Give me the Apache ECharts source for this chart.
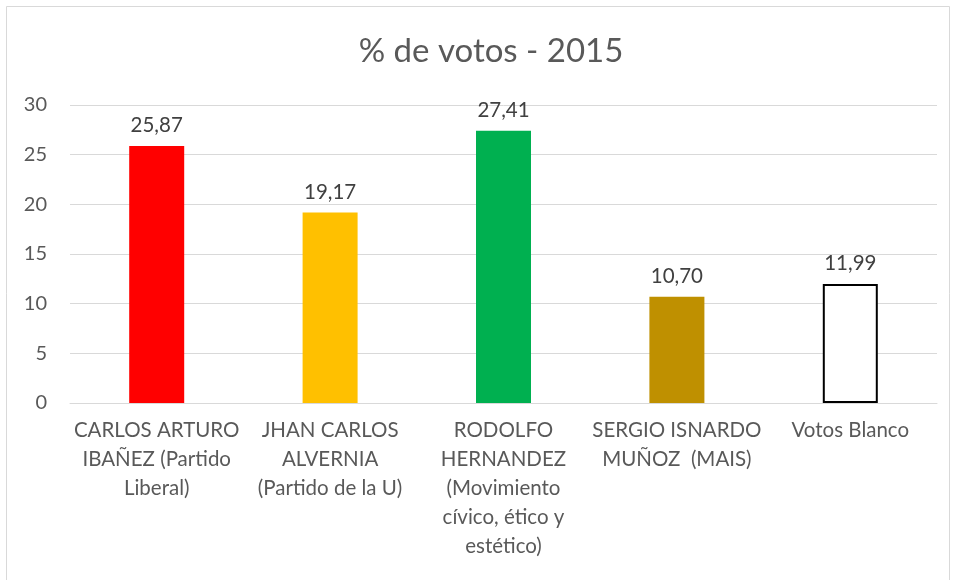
<!DOCTYPE html>
<html>
<head>
<meta charset="utf-8">
<script src="https://cdn.jsdelivr.net/npm/echarts@6/dist/echarts.min.js"></script>
<style>
  html, body { margin: 0; padding: 0; background: #fff; }
  #chart { width: 956px; height: 580px; }
</style>
</head>
<body>
<div id="chart"></div>
<script>
// Candidates and their share of the vote
const categories = [
  'CARLOS ARTURO\nIBAÑEZ (Partido\nLiberal)',
  'JHAN CARLOS\nALVERNIA\n(Partido de la U)',
  'RODOLFO\nHERNANDEZ\n(Movimiento\ncívico, ético y\nestético)',
  'SERGIO ISNARDO\nMUÑOZ  (MAIS)',
  'Votos Blanco'
];
const votes = [25.87, 19.17, 27.41, 10.70, 11.99];
const barColors = ['#FF0000', '#FFC000', '#00B050', '#BF9000', '#FFFFFF'];
const yTicks = { min: 0, max: 30, interval: 5 };

const FONT = 'Lato, "Open Sans", sans-serif';

const chart = echarts.init(document.getElementById('chart'), null, { renderer: 'canvas' });

chart.setOption({
  backgroundColor: '#fff',
  animation: false,
  graphic: [{
    type: 'rect',
    shape: { x: 6.5, y: 6.5, width: 943, height: 600 },
    style: { fill: 'none', stroke: '#D9D9D9', lineWidth: 1 },
    silent: true
  }],
  title: {
    text: '% de votos - 2015',
    left: 486,
    textAlign: 'center',
    top: 30,
    textStyle: { fontFamily: FONT, fontSize: 33, fontWeight: 'normal', color: '#595959' }
  },
  grid: { left: 70, right: 19, top: 105, bottom: 177, containLabel: false },
  xAxis: {
    type: 'category',
    data: categories,
    axisTick: { show: false },
    axisLine: { show: true, lineStyle: { color: '#D9D9D9', width: 1 } },
    axisLabel: {
      interval: 0,
      margin: 13,
      fontFamily: FONT,
      fontSize: 20.5,
      lineHeight: 29,
      color: '#595959',
      align: 'center'
    }
  },
  yAxis: {
    type: 'value',
    min: yTicks.min,
    max: yTicks.max,
    interval: yTicks.interval,
    axisLine: { show: false },
    axisTick: { show: false },
    splitLine: { lineStyle: { color: '#D9D9D9', width: 1 } },
    axisLabel: {
      margin: 23,
      fontFamily: FONT,
      fontSize: 20,
      color: '#595959'
    }
  },
  series: [{
    type: 'bar',
    barWidth: 55,
    data: votes.map((v, i) => ({
      value: v,
      itemStyle: i === votes.length - 1
        ? { color: barColors[i], borderColor: '#000', borderWidth: 2 }
        : { color: barColors[i] }
    })),
    label: {
      show: true,
      position: 'top',
      distance: 10,
      fontFamily: FONT,
      fontSize: 20.5,
      color: '#404040',
      formatter: p => p.value.toFixed(2).replace('.', ',')
    }
  }]
});
</script>
</body>
</html>
